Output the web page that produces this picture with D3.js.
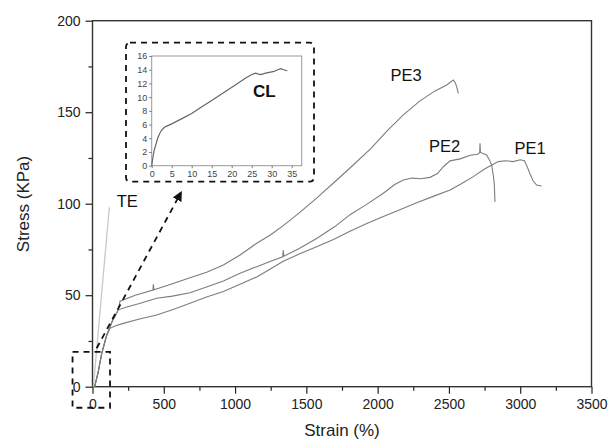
<!DOCTYPE html>
<html>
<head>
<meta charset="utf-8">
<script src="https://cdn.jsdelivr.net/npm/d3@7"></script>
<style>
  body { margin: 0; background: #fff; }
  svg { display: block; font-family: "Liberation Sans", Arial, sans-serif; }
</style>
</head>
<body>
<svg id="chart" width="608" height="442"></svg>
<script>
// stress-strain curves, [strain %, stress KPa]
const pe1 = [[15,0],[40,8],[64,18],[99,28],[123,31.9],[158,33.2],[216,34.6],[330,37],[450,39.2],[560,42],[684,45.6],[800,49],[918,52],[1035,56],[1152,60],[1250,64.5],[1338,68.5],[1450,72.5],[1572,76.5],[1690,80.5],[1806,85],[1920,89],[2040,93],[2160,96.8],[2274,100.5],[2390,104],[2508,107.5],[2590,111],[2671,114.8],[2750,119],[2811,121.5],[2846,123],[2900,123.5],[2950,123],[3000,124],[3030,123.5],[3050,120],[3068,116.5],[3090,112.5],[3115,110.2],[3150,109.7]];
const pe2 = [[15,0],[40,8],[64,18],[99,28],[140,36],[181,42],[240,43.5],[330,45.5],[450,48.3],[560,49.5],[684,51.3],[800,54.5],[918,57.8],[1035,62],[1152,65.6],[1250,68.5],[1334,71],[1338,74.6],[1342,71.3],[1450,75.5],[1572,81],[1700,87.5],[1806,94],[1920,99.5],[2040,105.7],[2120,110.5],[2180,113],[2240,114],[2300,113.6],[2367,114.4],[2420,116.5],[2461,120.2],[2508,123.4],[2578,124.5],[2650,126.5],[2700,127],[2716,127.9],[2718,133],[2721,128],[2765,126.6],[2790,123],[2800,121],[2812,115],[2818,111],[2823,101]];
const pe3 = [[15,0],[40,8],[64,18],[99,28],[140,36],[181,42],[193,46.7],[300,50],[424,52.8],[427,56],[431,53],[550,56],[684,59.5],[800,62.5],[918,66.5],[1035,72],[1152,78.4],[1250,83],[1338,88],[1450,95],[1572,103],[1700,112],[1806,119.5],[1950,130],[2063,139.5],[2180,148.5],[2297,156.2],[2400,161.5],[2484,164.9],[2531,167.6],[2545,166],[2554,164],[2566,160.3]];
const te = [[6,0],[118,98]];
const cl = [[0,0],[0.3,1.2],[0.6,2.2],[1,3],[1.5,4],[2,4.7],[2.5,5.2],[3,5.5],[3.5,5.7],[5,6.1],[7.7,6.9],[10,7.6],[12.25,8.5],[15,9.5],[18.9,11],[21,11.8],[23.5,12.8],[25,13.3],[26,13.5],[26.5,13.4],[27.25,13.3],[28.5,13.5],[30.6,13.75],[31.5,14],[32.3,14.15],[33,14],[33.9,13.85]];

const xTicks = [0,500,1000,1500,2000,2500,3000,3500];
const yTicks = [0,50,100,150,200];
const insetXTicks = [0,5,10,15,20,25,30,35];
const insetYTicks = [0,2,4,6,8,10,12,14,16];

// curve labels [text, strain, stress]
const labels = [["PE3",2090,167],["PE2",2360,128],["PE1",2960,127],["TE",170,98]];

const svg = d3.select('#chart');
const x = d3.scaleLinear().domain([0,3500]).range([92.5,591.5]);
const y = d3.scaleLinear().domain([0,200]).range([386.7,20.7]);

const line = d3.line().x(d => x(d[0])).y(d => y(d[1]));

// minor ticks
const xMinor = d3.range(250,3500,500);
const yMinor = d3.range(25,200,50);

svg.append('g').attr('transform','translate(0,386.7)')
  .call(d3.axisBottom(x).tickValues(xMinor).tickSize(4).tickFormat(''))
  .call(g => g.select('.domain').remove())
  .selectAll('line').attr('stroke','#222').attr('stroke-width',1.2);
svg.append('g').attr('transform','translate(92.5,0)')
  .call(d3.axisLeft(y).tickValues(yMinor).tickSize(4).tickFormat(''))
  .call(g => g.select('.domain').remove())
  .selectAll('line').attr('stroke','#222').attr('stroke-width',1.2);

const xAxis = svg.append('g').attr('transform','translate(0,386.7)')
  .call(d3.axisBottom(x).tickValues(xTicks).tickSize(7).tickPadding(5).tickFormat(d3.format('d')));
const yAxis = svg.append('g').attr('transform','translate(92.5,0)')
  .call(d3.axisLeft(y).tickValues(yTicks).tickSize(7).tickPadding(5).tickFormat(d3.format('d')));
[xAxis, yAxis].forEach(a => {
  a.select('.domain').remove();
  a.selectAll('line').attr('stroke','#222').attr('stroke-width',1.2);
  a.selectAll('text').attr('font-size',14).attr('fill','#222')
    .attr('font-family','"Liberation Sans", Arial, sans-serif');
});

// frame
svg.append('rect')
  .attr('x',x(0)).attr('y',y(200))
  .attr('width',x(3500)-x(0)).attr('height',y(0)-y(200))
  .attr('fill','none').attr('stroke','#333').attr('stroke-width',1.4);

// curves
svg.append('path').datum(te).attr('d',line)
  .attr('fill','none').attr('stroke','#c8c8c8').attr('stroke-width',1.3);
[pe1,pe2,pe3].forEach(d => {
  svg.append('path').datum(d).attr('d',line)
    .attr('fill','none').attr('stroke','#7c7c7c').attr('stroke-width',1.1);
});

labels.forEach(([t,sx,sy]) => {
  svg.append('text').attr('x',x(sx)).attr('y',y(sy))
    .attr('font-size',16.5).attr('fill','#111').text(t);
});

// axis titles
svg.append('text').attr('x',342).attr('y',436)
  .attr('text-anchor','middle').attr('font-size',17).attr('fill','#222')
  .text('Strain (%)');
svg.append('text').attr('transform','translate(29,204) rotate(-90)')
  .attr('text-anchor','middle').attr('font-size',17).attr('fill','#222')
  .text('Stress (KPa)');

// zoom box near origin and arrow
svg.append('rect')
  .attr('x',x(-140)).attr('y',y(19))
  .attr('width',x(123)-x(-140)).attr('height',y(-11.5)-y(19))
  .attr('fill','none').attr('stroke','#111').attr('stroke-width',1.8)
  .attr('stroke-dasharray','6,5');

svg.append('defs').append('marker')
  .attr('id','arr').attr('viewBox','0 0 10 10').attr('refX',8).attr('refY',5)
  .attr('markerWidth',5.5).attr('markerHeight',5.5).attr('orient','auto')
  .append('path').attr('d','M0,0L10,5L0,10z').attr('fill','#111');
svg.append('line')
  .attr('x1',x(29)).attr('y1',y(21)).attr('x2',x(620)).attr('y2',y(106))
  .attr('stroke','#111').attr('stroke-width',1.8).attr('stroke-dasharray','6,5')
  .attr('marker-end','url(#arr)');

// inset dashed border
svg.append('rect')
  .attr('x',126).attr('y',42.7).attr('width',188).attr('height',139)
  .attr('rx',4).attr('fill','none').attr('stroke','#111')
  .attr('stroke-width',1.8).attr('stroke-dasharray','6,5');

// inset chart
const ix = d3.scaleLinear().domain([0,37.5]).range([151.7,301.7]);
const iy = d3.scaleLinear().domain([0,16]).range([165.7,56]);
const inset = svg.append('g');
inset.append('rect')
  .attr('x',ix(0)).attr('y',iy(16)).attr('width',ix(37.5)-ix(0)).attr('height',iy(0)-iy(16))
  .attr('fill','none').attr('stroke','#999').attr('stroke-width',1);
const ixA = inset.append('g').attr('transform',`translate(0,${iy(0)})`)
  .call(d3.axisBottom(ix).tickValues(insetXTicks).tickSize(2.5).tickPadding(2));
const iyA = inset.append('g').attr('transform',`translate(${ix(0)},0)`)
  .call(d3.axisLeft(iy).tickValues(insetYTicks).tickSize(2.5).tickPadding(2));
[ixA, iyA].forEach(a => {
  a.select('.domain').remove();
  a.selectAll('line').attr('stroke','#777');
  a.selectAll('text').attr('font-size',9).attr('fill','#444')
    .attr('font-family','"Liberation Sans", Arial, sans-serif');
});
inset.append('path').datum(cl)
  .attr('d', d3.line().x(d => ix(d[0])).y(d => iy(d[1])))
  .attr('fill','none').attr('stroke','#666').attr('stroke-width',1.2);
inset.append('text').attr('x',ix(25.3)).attr('y',iy(10))
  .attr('font-size',17).attr('font-weight','bold').attr('fill','#111').text('CL');
</script>
</body>
</html>
